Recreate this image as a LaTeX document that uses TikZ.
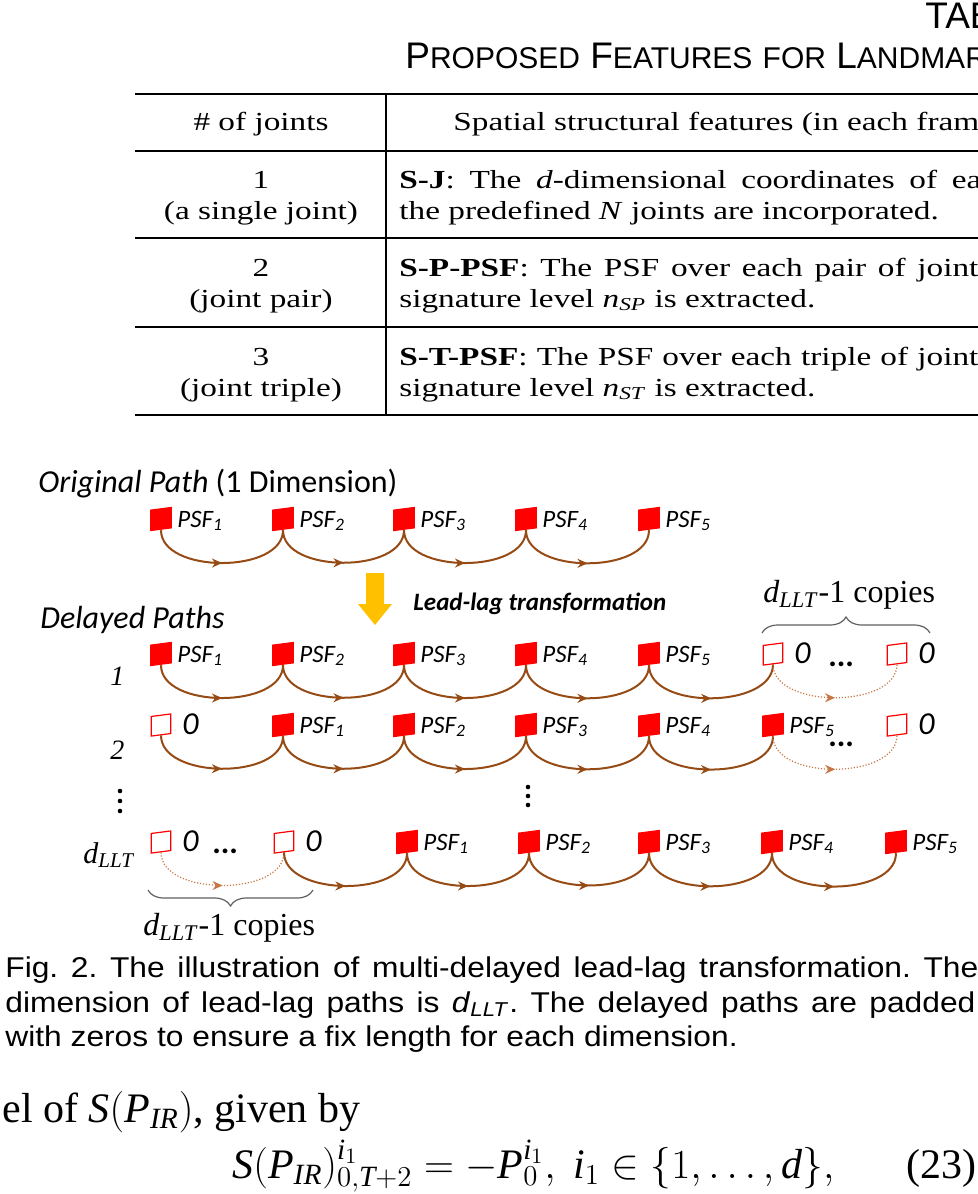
\documentclass[tikz,border=0pt]{standalone}
\usepackage{fontspec}
\setmainfont{Liberation Serif}
\newfontfamily\tabfont{Liberation Serif}[FakeStretch=1.28]
\newfontfamily\capfont{Liberation Sans}[FakeStretch=1.11]
\newfontfamily\headfont{Liberation Sans}
\newfontfamily\figfont{Carlito}
\usetikzlibrary{arrows.meta,calc,decorations.markings,decorations.pathreplacing}

\definecolor{arcbrown}{RGB}{150,75,20}
\definecolor{zerobrown}{RGB}{200,120,70}
\definecolor{arrowyellow}{RGB}{255,192,0}
\definecolor{bracegray}{RGB}{95,95,95}

\newcommand\capw[2]{{\fontsize{18.5}{20}\selectfont#1}{\fontsize{15}{20}\selectfont#2}}
\newcommand\dllt{\textit{d}\textsubscript{\textit{LLT}}}
\frenchspacing

\tikzset{
  midarrow/.style={postaction={decorate,decoration={markings,
      mark=at position 0.5 with {\arrow{Stealth[length=5pt,width=4.5pt]}}}}},
  link/.style={draw=arcbrown,line width=1pt,out=-90,in=-90,looseness=0.92,midarrow},
  zerolink/.style={draw=zerobrown,line width=0.6pt,dash pattern=on 0.6pt off 0.9pt,
      out=-90,in=-90,looseness=0.92,midarrow},
  psfbox/.style={rectangle,fill=red,inner sep=0pt,minimum size=10.8pt,yslant=0.13},
  zerobox/.style={rectangle,draw=red,fill=white,line width=0.6pt,inner sep=0pt,
      minimum size=9.8pt,yslant=0.13},
  psflab/.style={anchor=base west,inner sep=0pt,font=\figfont\itshape\fontsize{12.5}{14}\selectfont},
  zerolab/.style={anchor=base west,inner sep=0pt,font=\figfont\itshape\fontsize{16}{18}\selectfont},
  dotlab/.style={anchor=base west,inner sep=0pt,font=\figfont\bfseries\fontsize{16}{18}\selectfont},
  figlab/.style={anchor=base west,inner sep=0pt,font=\figfont\fontsize{16}{18}\selectfont},
  rowlab/.style={anchor=base west,inner sep=0pt,font=\itshape\fontsize{14}{16}\selectfont},
  copylab/.style={anchor=base west,inner sep=0pt,font=\fontsize{16}{18}\selectfont},
  copybrace/.style={draw=bracegray,line width=0.6pt,decorate,decoration={brace,amplitude=8pt}},
  cellc/.style={anchor=base,inner sep=0pt,font=\tabfont\fontsize{13}{15}\selectfont},
  cellw/.style={anchor=base west,inner sep=0pt,font=\tabfont\fontsize{13}{15}\selectfont},
  thickrule/.style={line width=1.3pt},
  thinrule/.style={line width=0.8pt},
  headtext/.style={anchor=base west,inner sep=0pt,font=\headfont\fontsize{18.5}{20}\selectfont},
  captext/.style={anchor=base west,inner sep=0pt,font=\capfont\fontsize{14.3}{17}\selectfont},
  eqtext/.style={anchor=base west,inner sep=0pt,font=\fontsize{21}{25}\selectfont}
}

\begin{document}
\begin{tikzpicture}[x=0.5pt,y=-0.5pt]
\useasboundingbox (0,0) rectangle (978,1194);
\clip (0,0) rectangle (978,1194);

% table title
\node[headtext] (tab) at (925,28) {TAB};
\node[headtext] (ttl) at (405,68) {\capw{P}{ROPOSED} \capw{F}{EATURES} \capw{}{FOR} \capw{L}{ANDMAR}};

% table rules
\draw[thickrule] (135,94)--(985,94);
\draw[thinrule] (135,151)--(985,151);
\draw[thinrule] (135,238)--(985,238);
\draw[thinrule] (135,327)--(985,327);
\draw[thickrule] (135,415)--(985,415);
\draw[thinrule] (386,94)--(386,415);

% table cells
\node[cellc] (h1) at (261,130) {\# of joints};
\node[cellw] (h2) at (453,130) {Spatial structural features (in each fram};
\node[cellc] (r1a) at (261,188) {1};
\node[cellc] (r1b) at (261,219) {(a single joint)};
\node[cellw] (r1c) at (399,188) {\makebox[291pt][s]{\textbf{S-J}: The \textit{d}-dimensional coordinates of ea}};
\node[cellw] (r1d) at (399,219) {the predefined \textit{N} joints are incorporated.};
\node[cellc] (r2a) at (261,276) {2};
\node[cellc] (r2b) at (261,307) {(joint pair)};
\node[cellw] (r2c) at (399,276) {\makebox[289.5pt][s]{\textbf{S-P-PSF}: The PSF over each pair of joint}};
\node[cellw] (r2d) at (399,307) {signature level \textit{n}\textsubscript{\textit{SP}} is extracted.};
\node[cellc] (r3a) at (261,365) {3};
\node[cellc] (r3b) at (261,396) {(joint triple)};
\node[cellw] (r3c) at (399,365) {\makebox[289.5pt][s]{\textbf{S-T-PSF}: The PSF over each triple of joint}};
\node[cellw] (r3d) at (399,396) {signature level \textit{n}\textsubscript{\textit{ST}} is extracted.};

% original path
\node[figlab] (orig) at (38,492) {\textit{Original Path} (1 Dimension)};
\foreach \xx [count=\i] in {161,283,404,526,649}
  \node[psfbox] (o\i) at (\xx,519) {};
\foreach \i in {1,...,5}
  \node[psflab] (ol\i) at ($(o\i.center)+(16,8)$) {PSF\textsubscript{\i}};
\foreach \i [count=\j from 2] in {1,...,4}
  \draw[link] (o\i.south) to (o\j.south);

% lead-lag arrow
\fill[arrowyellow] (366,573)--(384,573)--(384,604)--(392,604)--(375,625)--(358,604)--(366,604)--cycle;
\node[anchor=base west,inner sep=0pt,font=\figfont\bfseries\itshape\fontsize{12.5}{14}\selectfont] (llt) at (413,610) {Lead-lag transformation};
\node[figlab] (dly) at (40,628) {\textit{Delayed Paths}};

% copies brace (top)
\node[copylab] (cpt) at (763,602) {\dllt-1 copies};
\draw[copybrace] (762,633)--(930,633);

% delayed path 1
\node[rowlab] (n1) at (110,685) {1};
\foreach \xx [count=\i] in {161,283,404,526,649}
  \node[psfbox] (a\i) at (\xx,654) {};
\node[zerobox] (a6) at (773,654) {};
\node[zerobox] (a7) at (897,654) {};
\foreach \i in {1,...,5}
  \node[psflab] (al\i) at ($(a\i.center)+(16,8)$) {PSF\textsubscript{\i}};
\node[zerolab] (al6) at ($(a6.center)+(21,9)$) {0};
\node[zerolab] (al7) at ($(a7.center)+(21,9)$) {0};
\node[dotlab] (ad) at (828,666) {...};
\foreach \i [count=\j from 2] in {1,...,5}
  \draw[link] (a\i.south) to (a\j.south);
\draw[zerolink] (a6.south) to (a7.south);

% delayed path 2
\node[rowlab] (n2) at (110,759) {2};
\node[zerobox] (b1) at (161,725) {};
\foreach \xx [count=\i from 2] in {283,404,526,649,773}
  \node[psfbox] (b\i) at (\xx,725) {};
\node[zerobox] (b7) at (897,725) {};
\node[zerolab] (bl1) at ($(b1.center)+(21,9)$) {0};
\foreach \i [count=\k] in {2,...,6}
  \node[psflab] (bl\i) at ($(b\i.center)+(16,8)$) {PSF\textsubscript{\k}};
\node[zerolab] (bl7) at ($(b7.center)+(21,9)$) {0};
\node[dotlab] (bd) at (828,746) {...};
\foreach \i [count=\j from 2] in {1,...,5}
  \draw[link] (b\i.south) to (b\j.south);
\draw[zerolink] (b6.south) to (b7.south);

% vertical dots
\foreach \yy in {791,801,811}
  \fill (120,\yy) circle (2.3);
\foreach \yy in {787,796,805}
  \fill (528,\yy) circle (2.3);

% delayed path d
\node[rowlab,font=\fontsize{15}{17}\selectfont] (nd) at (83,863) {\dllt};
\node[zerobox] (c1) at (161,842) {};
\node[zerobox] (c2) at (284,842) {};
\foreach \xx [count=\i from 3] in {407,529,649,772,896}
  \node[psfbox] (c\i) at (\xx,842) {};
\node[zerolab] (cl1) at ($(c1.center)+(21,9)$) {0};
\node[zerolab] (cl2) at ($(c2.center)+(21,9)$) {0};
\foreach \i [count=\k] in {3,...,7}
  \node[psflab] (cl\i) at ($(c\i.center)+(16,8)$) {PSF\textsubscript{\k}};
\node[dotlab] (cd) at (212,853) {...};
\draw[zerolink] (c1.south) to (c2.south);
\foreach \i [count=\j from 3] in {2,...,6}
  \draw[link] (c\i.south) to (c\j.south);

% copies brace (bottom)
\draw[copybrace] (313,890)--(148,890);
\node[copylab] (cpb) at (143,935) {\dllt-1 copies};

% caption
\node[captext] (cap1) at (5,977) {\makebox[486.5pt][s]{Fig. 2. The illustration of multi-delayed lead-lag transformation. The}};
\node[captext] (cap2) at (5,1012) {\makebox[485pt][s]{dimension of lead-lag paths is \textit{d}\textsubscript{\textit{LLT}}. The delayed paths are padded}};
\node[captext] (cap3) at (5,1046) {with zeros to ensure a fix length for each dimension.};

% equation
\node[eqtext] (eq1) at (2,1122) {el of $\mathit{S}(\mathit{P}_{\mathit{IR}})$, given by};
\node[eqtext] (eq2) at (232,1178) {$\mathit{S}(\mathit{P}_{\mathit{IR}})^{\mathit{i}_1}_{0,\mathit{T}+2}=-\mathit{P}_0^{\mathit{i}_1},\ \mathit{i}_1\in\{1,\ldots,\mathit{d}\},$};
\node[eqtext] (eqn) at (906,1178) {(23)};
\end{tikzpicture}
\end{document}
